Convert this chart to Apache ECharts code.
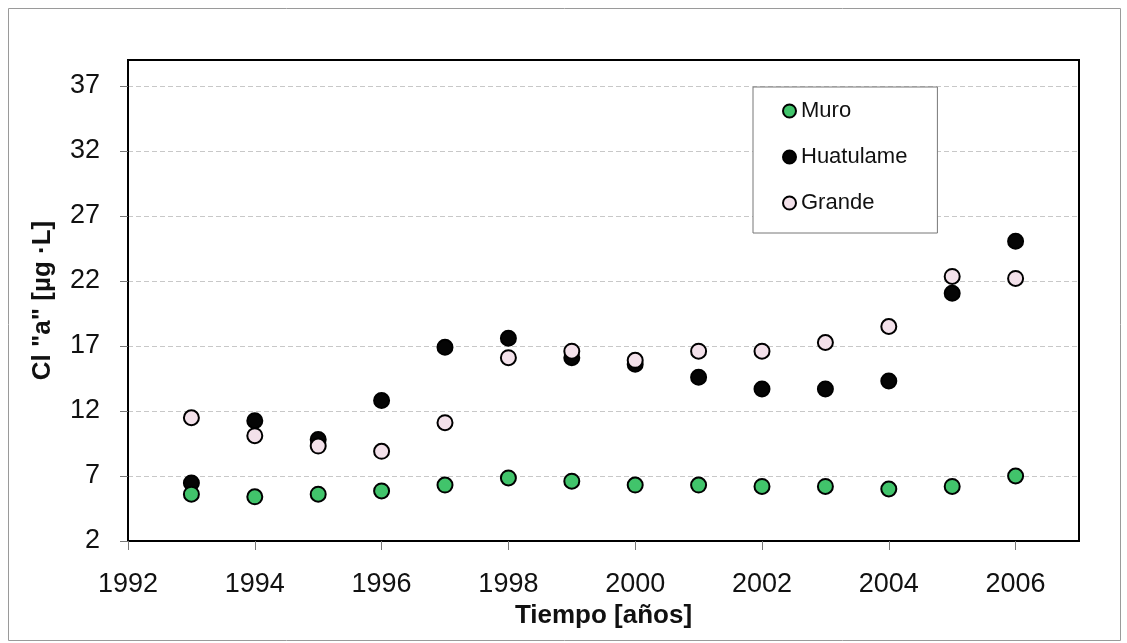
<!DOCTYPE html>
<html>
<head>
<meta charset="utf-8">
<script src="https://cdn.jsdelivr.net/npm/echarts@6/dist/echarts.min.js"></script>
<style>
html,body{margin:0;padding:0;background:#fff;}
#chart{width:1127px;height:643px;}
</style>
</head>
<body>
<div id="chart"></div>
<script>
const years = [1993, 1994, 1995, 1996, 1997, 1998, 1999, 2000, 2001, 2002, 2003, 2004, 2005, 2006];
const muro = [5.6, 5.4, 5.6, 5.85, 6.3, 6.85, 6.6, 6.3, 6.3, 6.2, 6.2, 6.0, 6.2, 7.0];
const huatulame = [6.47, 11.25, 9.8, 12.8, 16.9, 17.6, 16.1, 15.6, 14.6, 13.7, 13.7, 14.3, 21.05, 25.05];
const grande = [11.48, 10.1, 9.3, 8.9, 11.1, 16.1, 16.6, 15.9, 16.6, 16.6, 17.27, 18.5, 22.35, 22.2];
const xTicks = [1992, 1994, 1996, 1998, 2000, 2002, 2004, 2006];
const yTicks = [2, 7, 12, 17, 22, 27, 32, 37];

const pair = arr => years.map((y, i) => [y, arr[i]]);
const font = 'Liberation Sans, Arial, sans-serif';

const chart = echarts.init(document.getElementById('chart'), null, {renderer: 'canvas'});
chart.setOption({
  animation: false,
  backgroundColor: '#fff',
  graphic: [{
    type: 'rect',
    shape: {x: 8.5, y: 8.5, width: 1112, height: 632},
    style: {fill: 'none', stroke: '#9a9a9a', lineWidth: 1},
    z: -1
  }],
  grid: {
    left: 128, top: 60, right: 48, bottom: 102,
    show: true, borderColor: '#000', borderWidth: 2, backgroundColor: 'transparent'
  },
  legend: {
    orient: 'vertical',
    left: 753, top: 87,
    data: ['Muro', 'Huatulame', 'Grande'],
    itemWidth: 13, itemHeight: 13,
    itemGap: 22,
    padding: [12, 30, 18, 29],
    borderColor: '#777', borderWidth: 1,
    backgroundColor: '#fff',
    textStyle: {fontFamily: font, fontSize: 22, color: '#111', lineHeight: 24}
  },
  xAxis: {
    type: 'value',
    min: 1992, max: 2007, interval: 1,
    axisLine: {show: true, onZero: false, lineStyle: {color: '#000', width: 2}},
    axisTick: {show: true, length: 9, customValues: xTicks, lineStyle: {color: '#777', width: 1}},
    axisLabel: {customValues: xTicks, margin: 30, fontFamily: font, fontSize: 27, color: '#111',
      formatter: v => String(v)},
    splitLine: {show: false},
    name: 'Tiempo [años]',
    nameLocation: 'middle',
    nameGap: 60,
    nameTextStyle: {fontFamily: font, fontSize: 26, fontWeight: 'bold', color: '#111'}
  },
  yAxis: {
    type: 'value',
    min: 2, max: 39, interval: 5,
    axisLine: {show: true, lineStyle: {color: '#000', width: 2}},
    axisTick: {show: true, length: 8, customValues: yTicks, lineStyle: {color: '#777', width: 1}},
    axisLabel: {customValues: yTicks, margin: 28, fontFamily: font, fontSize: 27, color: '#111'},
    splitLine: {show: true, lineStyle: {color: '#c8c8c8', width: 1, type: [5, 3]}},
    name: 'Cl "a" [µg ·L]',
    nameLocation: 'middle',
    nameGap: 72,
    nameTextStyle: {fontFamily: font, fontSize: 26, fontWeight: 'bold', color: '#111'}
  },
  series: [
    {
      name: 'Huatulame', type: 'scatter', symbol: 'circle', symbolSize: 15,
      data: pair(huatulame),
      itemStyle: {color: '#050505', borderColor: '#000', borderWidth: 2, opacity: 1}
    },
    {
      name: 'Grande', type: 'scatter', symbol: 'circle', symbolSize: 15,
      data: pair(grande),
      itemStyle: {color: '#f3e1ea', borderColor: '#000', borderWidth: 2, opacity: 1}
    },
    {
      name: 'Muro', type: 'scatter', symbol: 'circle', symbolSize: 15,
      data: pair(muro),
      itemStyle: {color: '#41c46b', borderColor: '#000', borderWidth: 2, opacity: 1}
    }
  ]
});
</script>
</body>
</html>
